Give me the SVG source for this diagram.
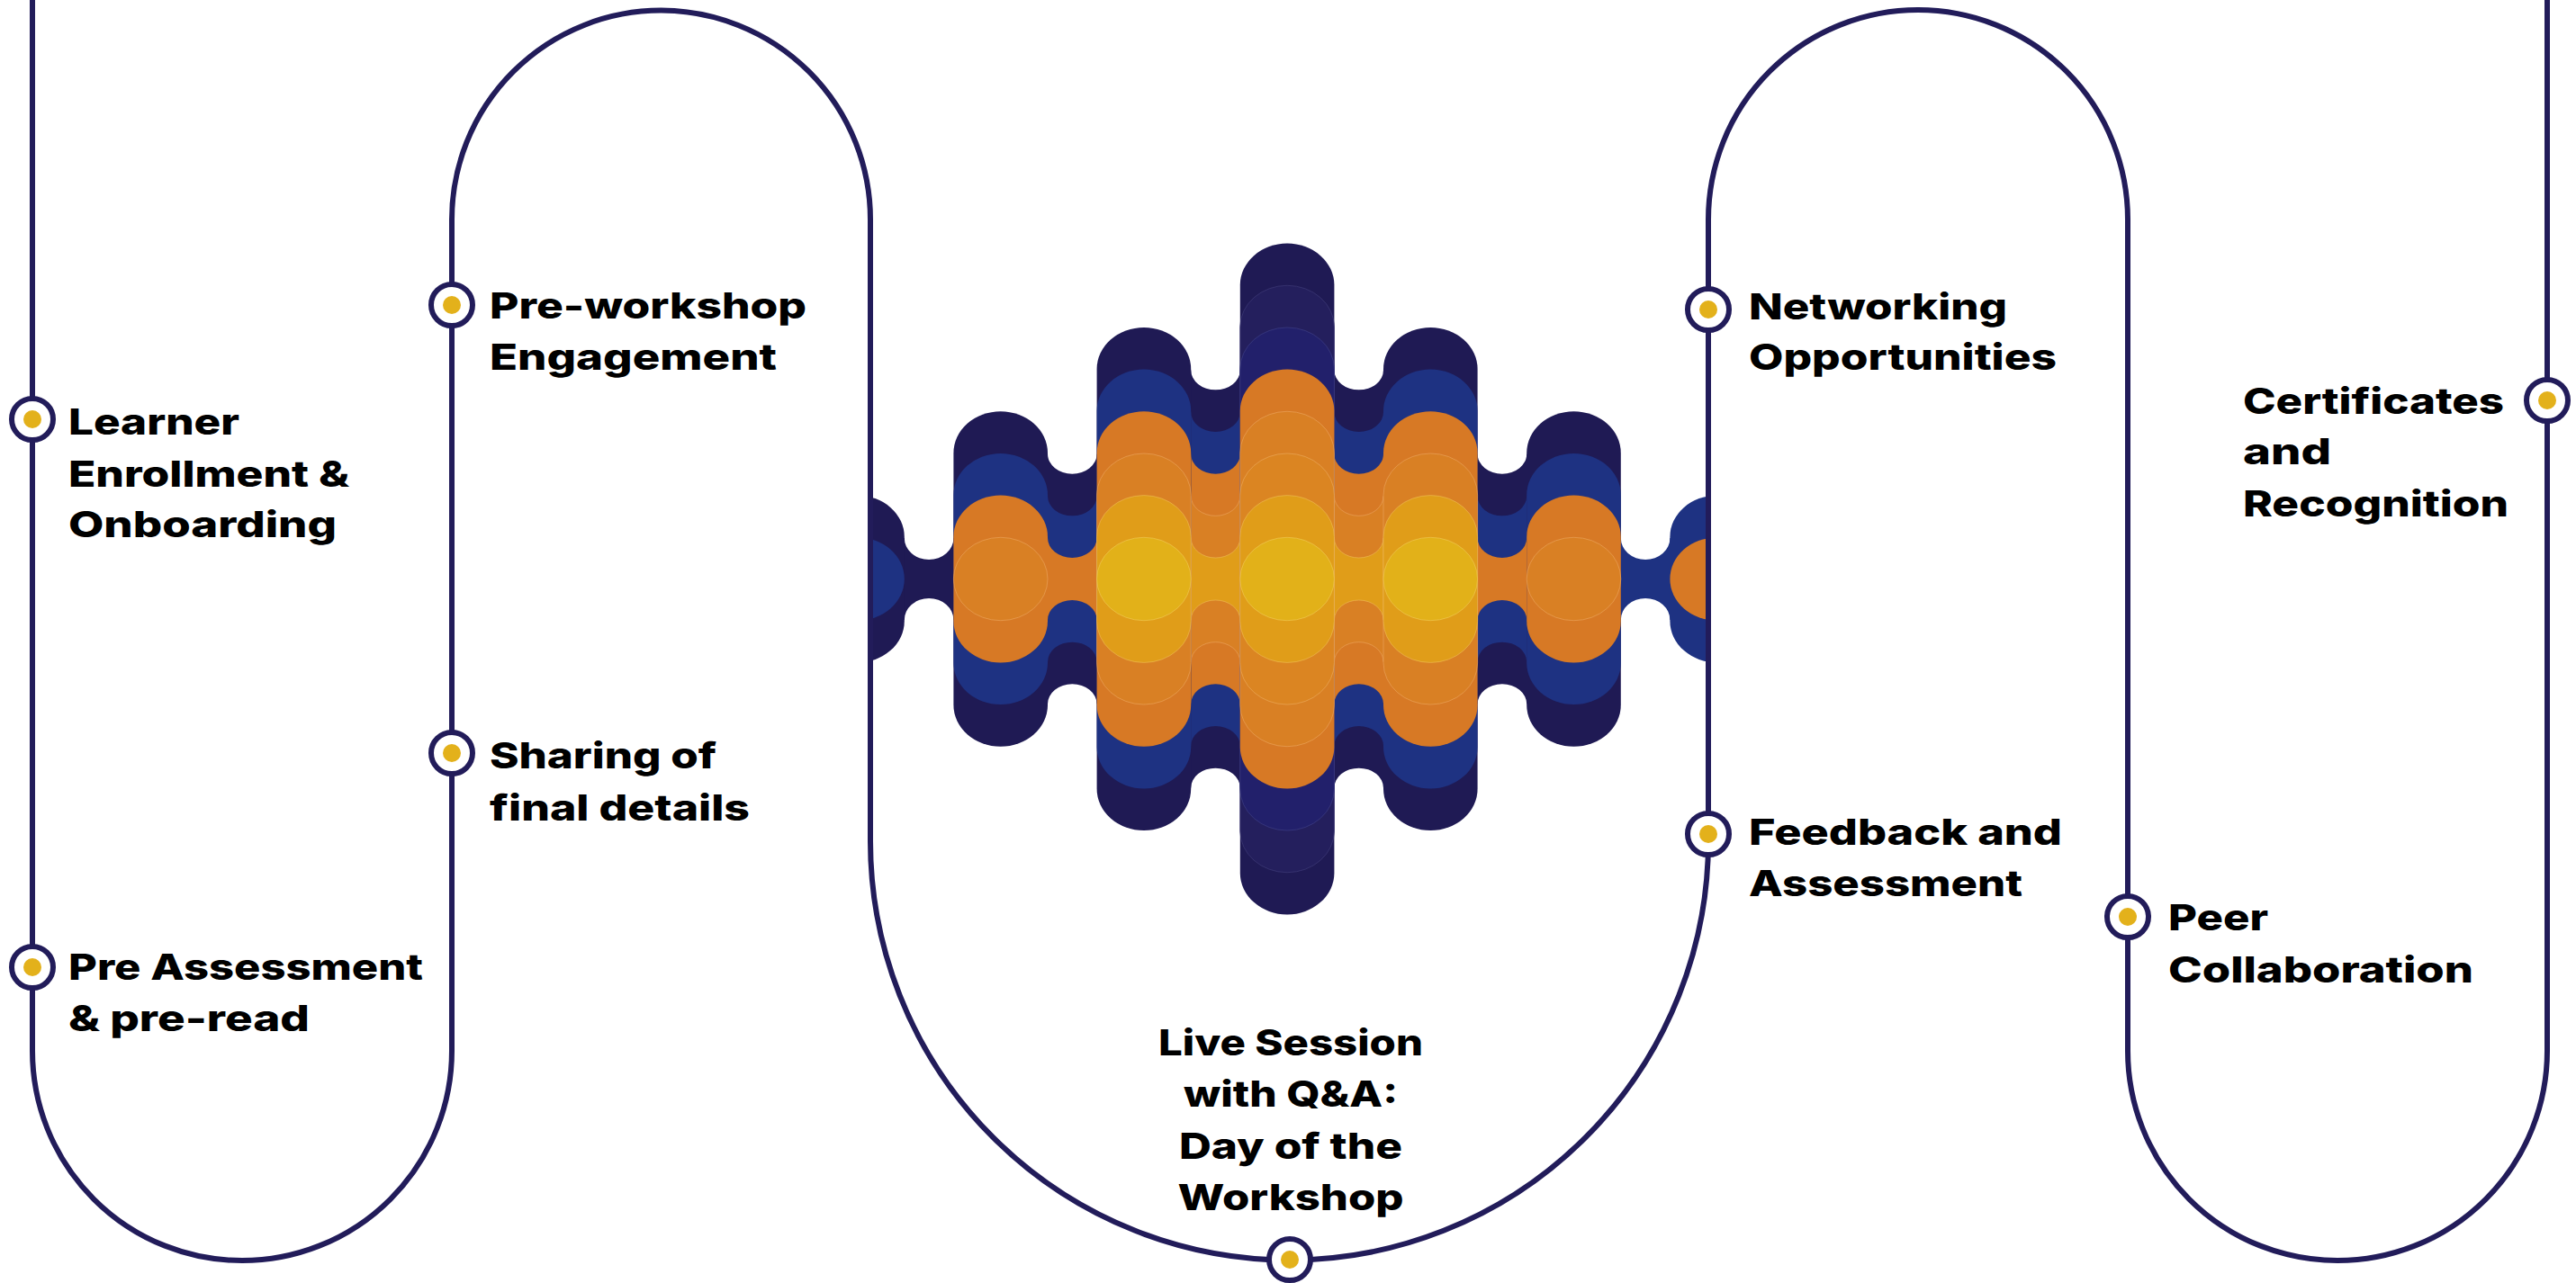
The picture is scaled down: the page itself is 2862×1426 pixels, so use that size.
<svg xmlns="http://www.w3.org/2000/svg" width="2862" height="1426" viewBox="0 0 2862 1426">
<style>
.ln{fill:none;stroke:#221c5a;stroke-width:6}
.mk{fill:#fff;stroke:#221c5a;stroke-width:6}
.dot{fill:#e3b11b}
.lbl{font-family:Inter,"Liberation Sans",sans-serif;font-weight:800;font-size:40px;fill:#000}
.n1{fill:#1f1a54}
.n2{fill:#241f5d;stroke:#3a3672;stroke-width:0.8}
.n3{fill:#22206b;stroke:#3a3a80;stroke-width:0.8}
.bl{fill:#1e3282}
.o1{fill:#d77925}
.o2{fill:#d98024;stroke:#eeab68;stroke-width:0.9;stroke-opacity:0.6}
.o3{fill:#db8522;stroke:#eeb068;stroke-width:0.9;stroke-opacity:0.6}
.yo{fill:#e09d19;stroke:#f0c060;stroke-width:0.9;stroke-opacity:0.6}
.ye{fill:#e2b119;stroke:#f2cc60;stroke-width:0.9;stroke-opacity:0.6}
</style>
<defs>
<clipPath id="archInside"><rect x="966" y="0" width="933" height="1426"/></clipPath>
</defs>
<rect width="2862" height="1426" fill="#fff"/>

<g id="wave-graphic" clip-path="url(#archInside)">
<!-- necks -->
<path class="n1" d="M1003.8,598 L1004.8,598 A27.3,24 0 0 0 1059.4,598 L1060.4,598 L1060.4,689 L1059.4,689 A27.3,24 0 0 0 1004.8,689 L1003.8,689 Z"/>
<path class="n1" d="M1163,504.67 L1164,504.67 A27.3,22 0 0 0 1218.6,504.67 L1219.6,504.67 L1219.6,782.33 L1218.6,782.33 A27.3,22 0 0 0 1164,782.33 L1163,782.33 Z"/>
<path class="bl" d="M1163,551.33 L1164,551.33 A27.3,22 0 0 0 1218.6,551.33 L1219.6,551.33 L1219.6,735.67 L1218.6,735.67 A27.3,22 0 0 0 1164,735.67 L1163,735.67 Z"/>
<path class="o1" d="M1163,598 L1164,598 A27.3,22 0 0 0 1218.6,598 L1219.6,598 L1219.6,689 L1218.6,689 A27.3,22 0 0 0 1164,689 L1163,689 Z"/>
<path class="n1" d="M1322.2,411.33 L1323.2,411.33 A27.3,22 0 0 0 1377.8,411.33 L1378.8,411.33 L1378.8,875.67 L1377.8,875.67 A27.3,22 0 0 0 1323.2,875.67 L1322.2,875.67 Z"/>
<path class="bl" d="M1322.2,458 L1323.2,458 A27.3,22 0 0 0 1377.8,458 L1378.8,458 L1378.8,829 L1377.8,829 A27.3,22 0 0 0 1323.2,829 L1322.2,829 Z"/>
<path class="o1" d="M1322.2,504.67 L1323.2,504.67 A27.3,22 0 0 0 1377.8,504.67 L1378.8,504.67 L1378.8,782.33 L1377.8,782.33 A27.3,22 0 0 0 1323.2,782.33 L1322.2,782.33 Z"/>
<path class="o2" d="M1322.2,551.33 L1323.2,551.33 A27.3,22 0 0 0 1377.8,551.33 L1378.8,551.33 L1378.8,735.67 L1377.8,735.67 A27.3,22 0 0 0 1323.2,735.67 L1322.2,735.67 Z"/>
<path class="yo" d="M1322.2,598 L1323.2,598 A27.3,22 0 0 0 1377.8,598 L1378.8,598 L1378.8,689 L1377.8,689 A27.3,22 0 0 0 1323.2,689 L1322.2,689 Z"/>
<path class="n1" d="M1481.4,411.33 L1482.4,411.33 A27.3,22 0 0 0 1537,411.33 L1538,411.33 L1538,875.67 L1537,875.67 A27.3,22 0 0 0 1482.4,875.67 L1481.4,875.67 Z"/>
<path class="bl" d="M1481.4,458 L1482.4,458 A27.3,22 0 0 0 1537,458 L1538,458 L1538,829 L1537,829 A27.3,22 0 0 0 1482.4,829 L1481.4,829 Z"/>
<path class="o1" d="M1481.4,504.67 L1482.4,504.67 A27.3,22 0 0 0 1537,504.67 L1538,504.67 L1538,782.33 L1537,782.33 A27.3,22 0 0 0 1482.4,782.33 L1481.4,782.33 Z"/>
<path class="o2" d="M1481.4,551.33 L1482.4,551.33 A27.3,22 0 0 0 1537,551.33 L1538,551.33 L1538,735.67 L1537,735.67 A27.3,22 0 0 0 1482.4,735.67 L1481.4,735.67 Z"/>
<path class="yo" d="M1481.4,598 L1482.4,598 A27.3,22 0 0 0 1537,598 L1538,598 L1538,689 L1537,689 A27.3,22 0 0 0 1482.4,689 L1481.4,689 Z"/>
<path class="n1" d="M1640.6,504.67 L1641.6,504.67 A27.3,22 0 0 0 1696.2,504.67 L1697.2,504.67 L1697.2,782.33 L1696.2,782.33 A27.3,22 0 0 0 1641.6,782.33 L1640.6,782.33 Z"/>
<path class="bl" d="M1640.6,551.33 L1641.6,551.33 A27.3,22 0 0 0 1696.2,551.33 L1697.2,551.33 L1697.2,735.67 L1696.2,735.67 A27.3,22 0 0 0 1641.6,735.67 L1640.6,735.67 Z"/>
<path class="o1" d="M1640.6,598 L1641.6,598 A27.3,22 0 0 0 1696.2,598 L1697.2,598 L1697.2,689 L1696.2,689 A27.3,22 0 0 0 1641.6,689 L1640.6,689 Z"/>
<path class="bl" d="M1799.8,598 L1800.8,598 A27.3,24 0 0 0 1855.4,598 L1856.4,598 L1856.4,689 L1855.4,689 A27.3,24 0 0 0 1800.8,689 L1799.8,689 Z"/>
<!-- columns -->
<rect class="n1" x="900.2" y="550.6" width="104.6" height="185.8" rx="52.3" ry="46.2"/>
<rect class="bl" x="900.2" y="597.3" width="104.6" height="92.4" rx="52.3" ry="46.2"/>

<rect class="n1" x="1059.4" y="457.3" width="104.6" height="372.4" rx="52.3" ry="46.2"/>
<rect class="bl" x="1059.4" y="504" width="104.6" height="279" rx="52.3" ry="46.2"/>
<rect class="o1" x="1059.4" y="550.6" width="104.6" height="185.8" rx="52.3" ry="46.2"/>
<rect class="o2" x="1059.4" y="597.3" width="104.6" height="92.4" rx="52.3" ry="46.2"/>

<rect class="n1" x="1218.6" y="364" width="104.6" height="559" rx="52.3" ry="46.2"/>
<rect class="bl" x="1218.6" y="410.6" width="104.6" height="465.8" rx="52.3" ry="46.2"/>
<rect class="o1" x="1218.6" y="457.3" width="104.6" height="372.4" rx="52.3" ry="46.2"/>
<rect class="o2" x="1218.6" y="504" width="104.6" height="279" rx="52.3" ry="46.2"/>
<rect class="yo" x="1218.6" y="550.6" width="104.6" height="185.8" rx="52.3" ry="46.2"/>
<rect class="ye" x="1218.6" y="597.3" width="104.6" height="92.4" rx="52.3" ry="46.2"/>

<rect class="n1" x="1377.8" y="270.6" width="104.6" height="745.8" rx="52.3" ry="46.2"/>
<rect class="n2" x="1377.8" y="317.3" width="104.6" height="652.4" rx="52.3" ry="46.2"/>
<rect class="n3" x="1377.8" y="364" width="104.6" height="559" rx="52.3" ry="46.2"/>
<rect class="o1" x="1377.8" y="410.6" width="104.6" height="465.8" rx="52.3" ry="46.2"/>
<rect class="o2" x="1377.8" y="457.3" width="104.6" height="372.4" rx="52.3" ry="46.2"/>
<rect class="o3" x="1377.8" y="504" width="104.6" height="279" rx="52.3" ry="46.2"/>
<rect class="yo" x="1377.8" y="550.6" width="104.6" height="185.8" rx="52.3" ry="46.2"/>
<rect class="ye" x="1377.8" y="597.3" width="104.6" height="92.4" rx="52.3" ry="46.2"/>

<rect class="n1" x="1537" y="364" width="104.6" height="559" rx="52.3" ry="46.2"/>
<rect class="bl" x="1537" y="410.6" width="104.6" height="465.8" rx="52.3" ry="46.2"/>
<rect class="o1" x="1537" y="457.3" width="104.6" height="372.4" rx="52.3" ry="46.2"/>
<rect class="o2" x="1537" y="504" width="104.6" height="279" rx="52.3" ry="46.2"/>
<rect class="yo" x="1537" y="550.6" width="104.6" height="185.8" rx="52.3" ry="46.2"/>
<rect class="ye" x="1537" y="597.3" width="104.6" height="92.4" rx="52.3" ry="46.2"/>

<rect class="n1" x="1696.2" y="457.3" width="104.6" height="372.4" rx="52.3" ry="46.2"/>
<rect class="bl" x="1696.2" y="504" width="104.6" height="279" rx="52.3" ry="46.2"/>
<rect class="o1" x="1696.2" y="550.6" width="104.6" height="185.8" rx="52.3" ry="46.2"/>
<rect class="o2" x="1696.2" y="597.3" width="104.6" height="92.4" rx="52.3" ry="46.2"/>

<rect class="bl" x="1855.4" y="550.6" width="104.6" height="185.8" rx="52.3" ry="46.2"/>
<rect class="o1" x="1855.4" y="597.3" width="104.6" height="92.4" rx="52.3" ry="46.2"/>
</g>

<g id="connectors">
<path class="ln" d="M36,0 L36,1168 A233,233 0 0 0 502,1168 L502,244 A232.5,232.5 0 0 1 967,244 L967,935 A465.5,465.5 0 0 0 1898,935 L1898,244 A233,233 0 0 1 2364,244 L2364,1168 A233,233 0 0 0 2830,1168 L2830,0"/>
</g>

<g id="node-learner-enrollment">
<circle class="mk" cx="36" cy="466" r="23"/><circle class="dot" cx="36" cy="466" r="10"/>
<text class="lbl" x="76" y="483" textLength="190" lengthAdjust="spacingAndGlyphs">Learner</text>
<text class="lbl" x="76" y="541" textLength="312" lengthAdjust="spacingAndGlyphs">Enrollment &amp;</text>
<text class="lbl" x="76" y="597" textLength="298" lengthAdjust="spacingAndGlyphs">Onboarding</text>
</g>
<g id="node-pre-assessment">
<circle class="mk" cx="36" cy="1075" r="23"/><circle class="dot" cx="36" cy="1075" r="10"/>
<text class="lbl" x="76" y="1089" textLength="394" lengthAdjust="spacingAndGlyphs">Pre Assessment</text>
<text class="lbl" x="76" y="1146" textLength="268" lengthAdjust="spacingAndGlyphs">&amp; pre-read</text>
</g>
<g id="node-pre-workshop">
<circle class="mk" cx="502" cy="339" r="23"/><circle class="dot" cx="502" cy="339" r="10"/>
<text class="lbl" x="544" y="354" textLength="352" lengthAdjust="spacingAndGlyphs">Pre-workshop</text>
<text class="lbl" x="544" y="411" textLength="319" lengthAdjust="spacingAndGlyphs">Engagement</text>
</g>
<g id="node-sharing">
<circle class="mk" cx="502" cy="837" r="23"/><circle class="dot" cx="502" cy="837" r="10"/>
<text class="lbl" x="544" y="854" textLength="252" lengthAdjust="spacingAndGlyphs">Sharing of</text>
<text class="lbl" x="544" y="912" textLength="289" lengthAdjust="spacingAndGlyphs">final details</text>
</g>
<g id="node-live-session">
<circle class="mk" cx="1433" cy="1400" r="23"/><circle class="dot" cx="1433" cy="1400" r="10"/>
<text class="lbl" x="1434" y="1173" text-anchor="middle" textLength="294" lengthAdjust="spacingAndGlyphs">Live Session</text>
<text class="lbl" x="1434" y="1230" text-anchor="middle" textLength="238" lengthAdjust="spacingAndGlyphs">with Q&amp;A:</text>
<text class="lbl" x="1434" y="1288" text-anchor="middle" textLength="248" lengthAdjust="spacingAndGlyphs">Day of the</text>
<text class="lbl" x="1434" y="1345" text-anchor="middle" textLength="251" lengthAdjust="spacingAndGlyphs">Workshop</text>
</g>
<g id="node-networking">
<circle class="mk" cx="1898" cy="344" r="23"/><circle class="dot" cx="1898" cy="344" r="10"/>
<text class="lbl" x="1943" y="355" textLength="287" lengthAdjust="spacingAndGlyphs">Networking</text>
<text class="lbl" x="1943" y="411" textLength="342" lengthAdjust="spacingAndGlyphs">Opportunities</text>
</g>
<g id="node-feedback">
<circle class="mk" cx="1898" cy="927" r="23"/><circle class="dot" cx="1898" cy="927" r="10"/>
<text class="lbl" x="1943" y="939" textLength="348" lengthAdjust="spacingAndGlyphs">Feedback and</text>
<text class="lbl" x="1943" y="996" textLength="304" lengthAdjust="spacingAndGlyphs">Assessment</text>
</g>
<g id="node-peer">
<circle class="mk" cx="2364" cy="1019" r="23"/><circle class="dot" cx="2364" cy="1019" r="10"/>
<text class="lbl" x="2409" y="1034" textLength="111" lengthAdjust="spacingAndGlyphs">Peer</text>
<text class="lbl" x="2409" y="1092" textLength="339" lengthAdjust="spacingAndGlyphs">Collaboration</text>
</g>
<g id="node-certificates">
<circle class="mk" cx="2830" cy="445" r="23"/><circle class="dot" cx="2830" cy="445" r="10"/>
<text class="lbl" x="2492" y="460" textLength="290" lengthAdjust="spacingAndGlyphs">Certificates</text>
<text class="lbl" x="2492" y="516" textLength="98" lengthAdjust="spacingAndGlyphs">and</text>
<text class="lbl" x="2492" y="574" textLength="295" lengthAdjust="spacingAndGlyphs">Recognition</text>
</g>
</svg>
